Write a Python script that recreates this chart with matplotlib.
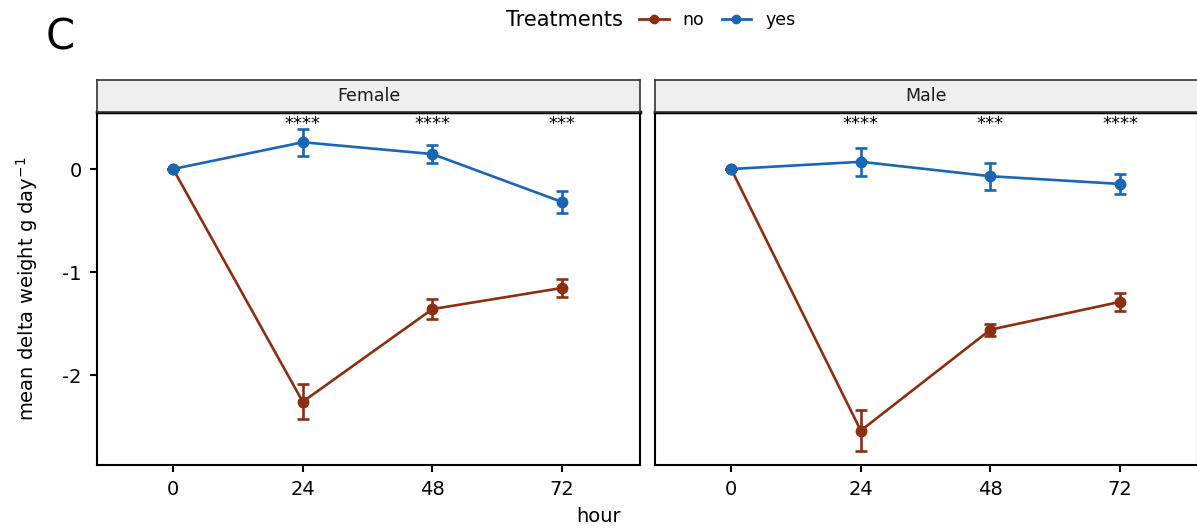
import matplotlib.pyplot as plt
from matplotlib.lines import Line2D

# data
hours = [0, 24, 48, 72]
sexes = ['Female', 'Male']

female_no = [0, -2.26, -1.36, -1.155]
female_no_se = [0, 0.17, 0.10, 0.09]
female_yes = [0, 0.26, 0.145, -0.32]
female_yes_se = [0, 0.13, 0.09, 0.11]

male_no = [0, -2.54, -1.56, -1.29]
male_no_se = [0, 0.20, 0.06, 0.09]
male_yes = [0, 0.07, -0.07, -0.145]
male_yes_se = [0, 0.135, 0.13, 0.10]

female_stars = ['', '****', '****', '***']
male_stars = ['', '****', '***', '****']

col_no = '#8B2F12'
col_yes = '#1866B4'

fig = plt.figure(figsize=(11.97, 5.30), dpi=100)

panels = [
    (female_no, female_no_se, female_yes, female_yes_se, female_stars),
    (male_no, male_no_se, male_yes, male_yes_se, male_stars),
]
lefts = [0.081, 0.5472]
w = 0.4535
bottom = 0.1226
h = 0.666
strip_h = 0.0604

for i, (no, no_se, yes, yes_se, stars) in enumerate(panels):
    ax = fig.add_axes([lefts[i], bottom, w, h])
    for vals, se, col in [(no, no_se, col_no), (yes, yes_se, col_yes)]:
        ax.errorbar(hours, vals, yerr=se, color=col, lw=1.9, marker='o', ms=7.5,
                    capsize=4.5, capthick=1.9, elinewidth=1.9)
    for x, s in zip(hours, stars):
        ax.text(x, 0.435, s, ha='center', va='center', fontsize=13)
    ax.set_xlim(-14.1, 86.4)
    ax.set_ylim(-2.874, 0.553)
    ax.set_xticks(hours)
    ax.set_yticks([0, -1, -2])
    ax.tick_params(direction='out', length=5, width=1.5, labelsize=14, pad=6)
    for sp in ax.spines.values():
        sp.set_linewidth(1.5)
    ax.spines['top'].set_linewidth(2.5)
    if i == 0:
        ax.set_yticklabels(['0', '-1', '-2'])
        ax.set_ylabel('mean delta weight g day$^{-1}$', fontsize=14, labelpad=16)
    else:
        ax.tick_params(axis='y', left=False, labelleft=False)

    # facet strip
    sax = fig.add_axes([lefts[i], bottom + h, w, strip_h])
    sax.set_xticks([])
    sax.set_yticks([])
    sax.set_facecolor('#EFEFEF')
    for sp in sax.spines.values():
        sp.set_color('#333333')
        sp.set_linewidth(1.2)
    sax.text(0.5, 0.5, sexes[i], ha='center', va='center', fontsize=12.5,
             color='#1a1a1a', transform=sax.transAxes)

fig.text(0.5, 0.025, 'hour', ha='center', va='center', fontsize=14)
fig.text(0.038, 0.89, 'C', fontsize=30, ha='left', va='bottom')

fig.text(0.52, 0.962, 'Treatments', ha='right', va='center', fontsize=15)
handles = [Line2D([0], [0], color=col_no, lw=2, marker='o', ms=6),
           Line2D([0], [0], color=col_yes, lw=2, marker='o', ms=6)]
fig.legend(handles, ['no', 'yes'], loc='center left',
           bbox_to_anchor=(0.534, 0.962), ncol=2, frameon=False, fontsize=12.5,
           handlelength=1.7, columnspacing=1.0, handletextpad=0.8,
           borderaxespad=0, borderpad=0)

fig.savefig('out.png', dpi=100)
